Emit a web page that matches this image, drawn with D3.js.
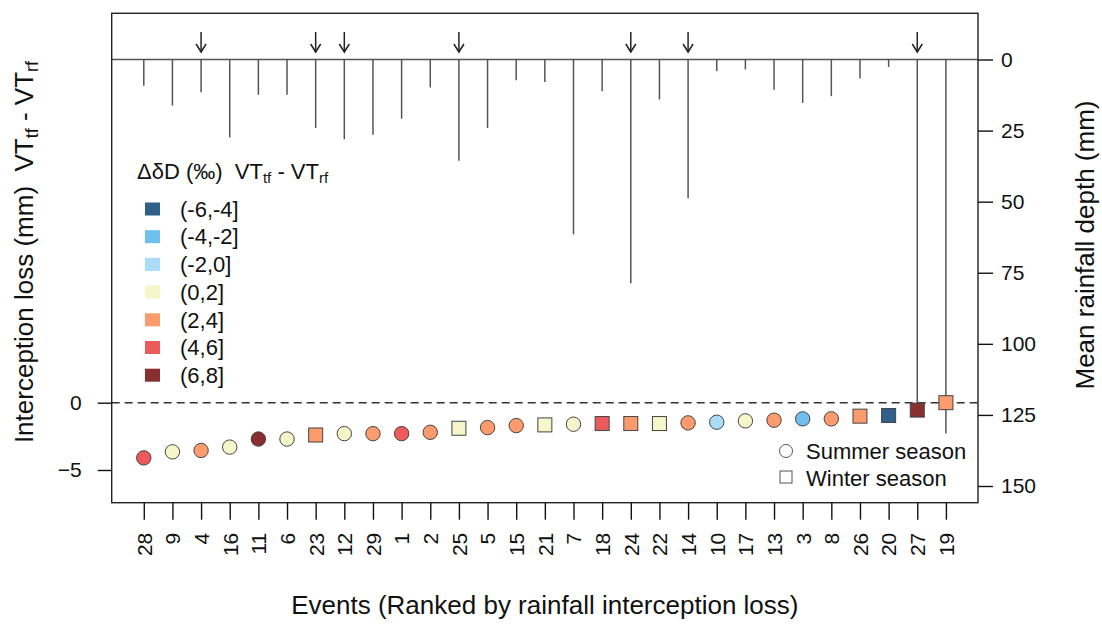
<!DOCTYPE html>
<html>
<head>
<meta charset="utf-8">
<script src="https://cdn.jsdelivr.net/npm/d3@7"></script>
<style>
  html, body { margin: 0; padding: 0; background: #fff; }
  svg { display: block; font-family: "Liberation Sans", Arial, sans-serif; }
</style>
</head>
<body>
<svg id="chart" width="1102" height="625"></svg>
<script>
// Events ranked by rainfall interception loss (left to right)
const events = ["28","9","4","16","11","6","23","12","29","1","2","25","5","15","21",
                "7","18","24","22","14","10","17","13","3","8","26","20","27","19"];

// Interception loss VT_tf - VT_rf (mm)
const interceptionLoss = [-4.1, -3.65, -3.55, -3.3, -2.7, -2.7, -2.4, -2.3, -2.3, -2.3,
                          -2.2, -1.9, -1.85, -1.7, -1.65, -1.6, -1.55, -1.55, -1.55, -1.5,
                          -1.45, -1.35, -1.3, -1.2, -1.2, -1.0, -0.95, -0.55, 0.0];

// Mean rainfall depth per event (mm)
const rainfallDepth = [9.2, 16.2, 11.5, 27.4, 12.4, 12.4, 24.1, 28.0, 26.5, 20.8,
                       9.8, 35.6, 24.1, 7.3, 7.9, 61.5, 11.2, 78.7, 14.1, 48.8,
                       4.1, 3.5, 10.6, 15.3, 12.9, 6.7, 2.6, 121.5, 131.5];

// Season of each event: S = summer (circle), W = winter (square)
const season = ["S","S","S","S","S","S","W","S","S","S","S","W","S","S","W",
                "S","W","W","W","S","S","S","S","S","S","W","W","W","W"];

// Delta-deltaD class of each event (per mil)
const deltaDClass = ["(4,6]","(0,2]","(2,4]","(0,2]","(6,8]","(0,2]","(2,4]","(0,2]","(2,4]","(4,6]",
                     "(2,4]","(0,2]","(2,4]","(2,4]","(0,2]","(0,2]","(4,6]","(2,4]","(0,2]","(2,4]",
                     "(-2,0]","(0,2]","(2,4]","(-4,-2]","(2,4]","(2,4]","(-6,-4]","(6,8]","(2,4]"];

// Events flagged with a downward arrow above the rainfall bars
const arrowEvents = ["4","23","12","25","24","14","27"];

// Class labels and their colours
const classLabels = ["(-6,-4]","(-4,-2]","(-2,0]","(0,2]","(2,4]","(4,6]","(6,8]"];
const classColors = ["#2f5f8a","#6fc0ee","#a9dcf7","#f7f6cb","#fc9b6e","#ec5a5b","#8a2f30"];

const lossTicks = [0, -5];
const rainTicks = [0, 25, 50, 75, 100, 125, 150];

const svg = d3.select("#chart");
const box = { left: 111.7, right: 978, top: 13.3, bottom: 502.7 };

const rows = events.map((e, i) => ({
  event: e, rank: i + 1, loss: interceptionLoss[i], rain: rainfallDepth[i],
  season: season[i], cls: deltaDClass[i], arrow: arrowEvents.includes(e)
}));

const x = d3.scaleLinear().domain([1 - 1.12, events.length + 1.12]).range([box.left, box.right]);
const yLoss = d3.scaleLinear().domain([-7.43, 28.93]).range([box.bottom, box.top]);
const yRain = d3.scaleLinear().domain([0, 150]).range([59.5, 486]);
const color = d3.scaleOrdinal().domain(classLabels).range(classColors);

// zero line of the rainfall panel
svg.append("line")
  .attr("x1", box.left).attr("x2", box.right)
  .attr("y1", yRain(0)).attr("y2", yRain(0))
  .attr("stroke", "#555").attr("stroke-width", 1.5);

// rainfall depth drop lines
svg.append("g").selectAll("line").data(rows).join("line")
  .attr("x1", d => x(d.rank)).attr("x2", d => x(d.rank))
  .attr("y1", yRain(0)).attr("y2", d => yRain(d.rain))
  .attr("stroke", "#555").attr("stroke-width", 1.5);

// arrows above flagged events
const arrows = svg.append("g").attr("stroke", "#222").attr("stroke-width", 1.5).attr("fill", "none");
rows.filter(d => d.arrow).forEach(d => {
  const cx = x(d.rank);
  arrows.append("line").attr("x1", cx).attr("x2", cx).attr("y1", 32).attr("y2", 52);
  arrows.append("path").attr("d", `M${cx - 5},44 L${cx},52 L${cx + 5},44`);
});

// zero line of interception loss
svg.append("line")
  .attr("x1", box.left).attr("x2", box.right)
  .attr("y1", yLoss(0)).attr("y2", yLoss(0))
  .attr("stroke", "#333").attr("stroke-width", 1.5)
  .attr("stroke-dasharray", "8,5");

// interception loss points
const pts = svg.append("g").attr("stroke", "#444").attr("stroke-width", 1);
pts.selectAll("circle").data(rows.filter(d => d.season === "S")).join("circle")
  .attr("cx", d => x(d.rank)).attr("cy", d => yLoss(d.loss)).attr("r", 7.2)
  .attr("fill", d => color(d.cls));
pts.selectAll("rect").data(rows.filter(d => d.season === "W")).join("rect")
  .attr("x", d => x(d.rank) - 7).attr("y", d => yLoss(d.loss) - 7)
  .attr("width", 14).attr("height", 14)
  .attr("fill", d => color(d.cls));

// frame
svg.append("rect")
  .attr("x", box.left).attr("y", box.top)
  .attr("width", box.right - box.left).attr("height", box.bottom - box.top)
  .attr("fill", "none").attr("stroke", "#222").attr("stroke-width", 1.4);

// axes
const fontSize = 21;
const left = svg.append("g").attr("transform", `translate(${box.left},0)`)
  .call(d3.axisLeft(yLoss).tickValues(lossTicks).tickSize(14).tickPadding(16));
const right = svg.append("g").attr("transform", `translate(${box.right},0)`)
  .call(d3.axisRight(yRain).tickValues(rainTicks).tickSize(15).tickPadding(8));
const bottom = svg.append("g").attr("transform", `translate(0,${box.bottom})`)
  .call(d3.axisBottom(x).tickValues(rows.map(d => d.rank))
        .tickFormat((d, i) => events[i]).tickSize(17));

[left, right, bottom].forEach(g => {
  g.select(".domain").remove();
  g.selectAll(".tick line").attr("stroke", "#111").attr("stroke-width", 1.4);
  g.selectAll(".tick text").attr("font-size", fontSize).attr("fill", "#111")
    .attr("font-family", "'Liberation Sans', Arial, sans-serif");
});
bottom.selectAll(".tick text")
  .attr("transform", "rotate(-90)")
  .attr("x", -30).attr("y", 0).attr("dy", "0.35em")
  .attr("text-anchor", "end");

// axis titles
svg.append("text")
  .attr("x", (box.left + box.right) / 2).attr("y", 614)
  .attr("text-anchor", "middle").attr("font-size", 26).attr("fill", "#111")
  .text("Events (Ranked by rainfall interception loss)");

const lt = svg.append("text")
  .attr("transform", "translate(33,252) rotate(-90)")
  .attr("text-anchor", "middle").attr("font-size", 26).attr("fill", "#111");
lt.append("tspan").text("Interception loss (mm)\u00a0\u00a0VT");
lt.append("tspan").attr("font-size", 18).attr("dy", 5).text("tf");
lt.append("tspan").attr("dy", -5).text(" - VT");
lt.append("tspan").attr("font-size", 18).attr("dy", 5).text("rf");

svg.append("text")
  .attr("transform", "translate(1094,245) rotate(-90)")
  .attr("text-anchor", "middle").attr("font-size", 26).attr("fill", "#111")
  .text("Mean rainfall depth (mm)");

// colour legend
const lg = svg.append("g");
const lgTitle = lg.append("text").attr("x", 137).attr("y", 179)
  .attr("font-size", 22).attr("fill", "#111");
lgTitle.append("tspan").text("\u0394\u03b4D (\u2030)\u00a0\u00a0VT");
lgTitle.append("tspan").attr("font-size", 15).attr("dy", 4).text("tf");
lgTitle.append("tspan").attr("dy", -4).text(" - VT");
lgTitle.append("tspan").attr("font-size", 15).attr("dy", 4).text("rf");

const lgRows = lg.selectAll("g.row").data(classLabels).join("g").attr("class", "row")
  .attr("transform", (d, i) => `translate(0,${209 + i * 27.7})`);
lgRows.append("rect").attr("x", 145).attr("y", -6.5).attr("width", 15).attr("height", 13)
  .attr("fill", d => color(d));
lgRows.append("text").attr("x", 180).attr("y", 0).attr("dy", "0.35em")
  .attr("font-size", 22).attr("fill", "#111").text(d => d);

// season legend
const sg = svg.append("g");
sg.append("circle").attr("cx", 786).attr("cy", 451).attr("r", 6.5)
  .attr("fill", "none").attr("stroke", "#555").attr("stroke-width", 1);
sg.append("rect").attr("x", 780).attr("y", 471).attr("width", 12).attr("height", 12)
  .attr("fill", "none").attr("stroke", "#555").attr("stroke-width", 1);
sg.append("text").attr("x", 806).attr("y", 451).attr("dy", "0.35em")
  .attr("font-size", 22).attr("fill", "#111").text("Summer season");
sg.append("text").attr("x", 806).attr("y", 478).attr("dy", "0.35em")
  .attr("font-size", 22).attr("fill", "#111").text("Winter season");
</script>
</body>
</html>
